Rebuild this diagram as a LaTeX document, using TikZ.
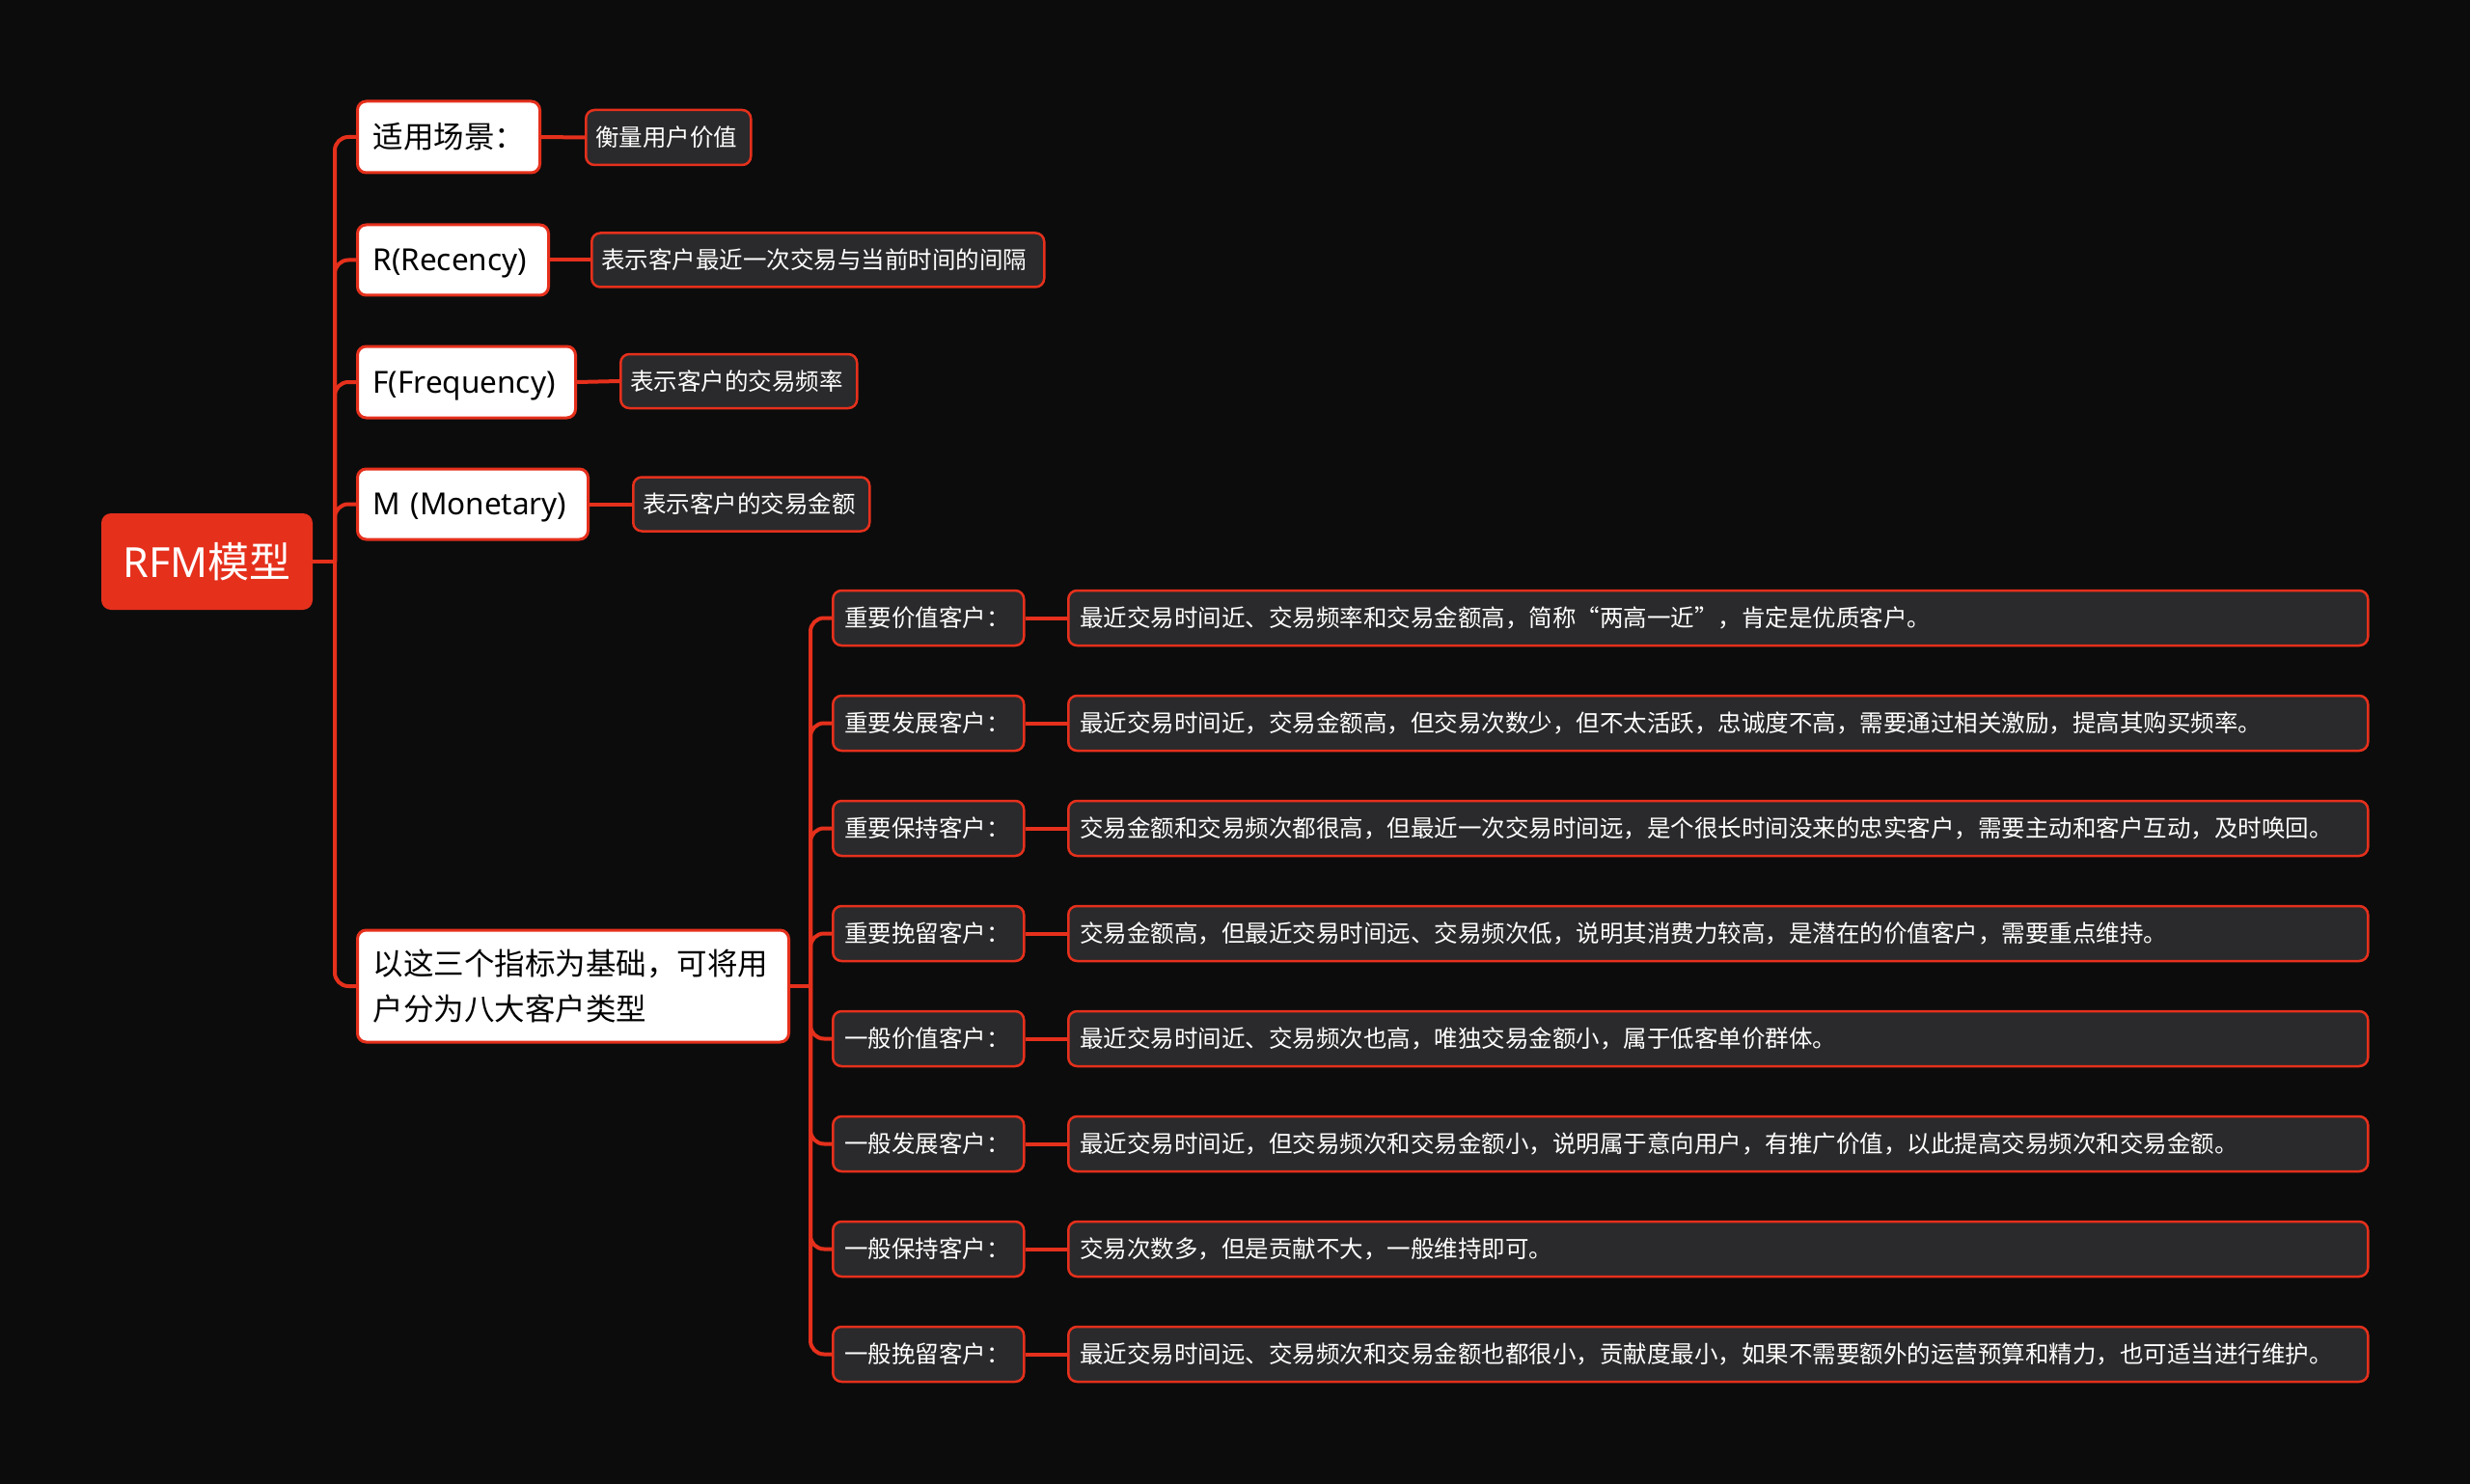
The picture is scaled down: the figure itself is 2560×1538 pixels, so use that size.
\documentclass[tikz,border=0pt]{standalone}
\usepackage{fontspec}
\newfontfamily\cjk{Noto Sans CJK SC}
\newfontfamily\lat{Noto Sans}
\definecolor{bgc}{HTML}{0C0C0C}
\definecolor{redc}{HTML}{E5301C}
\definecolor{darkc}{HTML}{2A2A2C}
\begin{document}
\begin{tikzpicture}[x=1pt,y=-1pt,
  conn/.style={draw=redc,line width=4pt},
  rootbox/.style={fill=redc, rounded corners=10pt, text=white, font=\cjk\fontsize{43}{52}\selectfont, minimum width=219pt, minimum height=100pt, inner sep=0pt},
  lvlone/.style={fill=white, draw=redc, line width=3pt, rounded corners=9pt, text=black, font=\cjk\fontsize{31.5}{47}\selectfont, anchor=west, inner xsep=16pt, inner ysep=0pt, align=left},
  latone/.style={lvlone, text height=29pt, text depth=6.5pt},
  lvltwo/.style={fill=darkc, draw=redc, line width=2.5pt, rounded corners=9pt, text=white, font=\cjk\fontsize{24.5}{30}\selectfont, anchor=west, inner xsep=10pt, inner ysep=0pt, align=left, minimum height=56pt},
  typebox/.style={lvltwo, inner xsep=12pt, minimum width=198pt, text width=174pt, minimum height=57pt},
  descbox/.style={lvltwo, inner xsep=12pt, minimum width=1347pt, text width=1323pt, minimum height=57pt},
  wd/.style 2 args={minimum width=#1pt, text width=#2pt}
]
\fill[bgc] (0,0) rectangle (2560,1538);
\useasboundingbox (0,0) rectangle (2560,1538);

% root
\node[rootbox] (root) at (214.5,582) {{\lat RFM}模型};
\coordinate (j1) at (347,582);
\coordinate (j2) at (840,1022);

% level one
\node[lvlone, wd={189}{157}, minimum height=74pt] (a1) at (369,142) {适用场景：};
\node[latone, wd={198}{166}, minimum height=73pt] (a2) at (369,269.5) {\lat R(Recency)};
\node[latone, wd={226}{194}, minimum height=74pt] (a3) at (369,396) {\lat F(Frequency)};
\node[latone, wd={239}{207}, minimum height=73pt] (a4) at (369,522.5) {\lat\mbox{M (Monetary)}};
\node[lvlone, wd={447}{415}, minimum height=116pt] (a5) at (369,1022) {以这三个指标为基础，可将用\\户分为八大客户类型};

% level two
\node[lvltwo, wd={171}{151}, minimum height=57pt] (b1) at (606,142.5) {衡量用户价值};
\node[lvltwo, wd={469}{449}] (b2) at (612,269.5) {表示客户最近一次交易与当前时间的间隔};
\node[lvltwo, wd={245}{225}] (b3) at (642,395) {表示客户的交易频率};
\node[lvltwo, wd={245}{225}] (b4) at (655,522.5) {表示客户的交易金额};

% eight types
\node[typebox] (c1) at (862,640.5) {重要价值客户：};
\node[typebox] (c2) at (862,749.5) {重要发展客户：};
\node[typebox] (c3) at (862,858.5) {重要保持客户：};
\node[typebox] (c4) at (862,967.5) {重要挽留客户：};
\node[typebox] (c5) at (862,1076.5) {一般价值客户：};
\node[typebox] (c6) at (862,1185.5) {一般发展客户：};
\node[typebox] (c7) at (862,1294.5) {一般保持客户：};
\node[typebox] (c8) at (862,1403.5) {一般挽留客户：};

\node[descbox] (d1) at (1106,640.5) {最近交易时间近、交易频率和交易金额高，简称“两高一近”，肯定是优质客户。};
\node[descbox] (d2) at (1106,749.5) {最近交易时间近，交易金额高，但交易次数少，但不太活跃，忠诚度不高，需要通过相关激励，提高其购买频率。};
\node[descbox] (d3) at (1106,858.5) {交易金额和交易频次都很高，但最近一次交易时间远，是个很长时间没来的忠实客户，需要主动和客户互动，及时唤回。};
\node[descbox] (d4) at (1106,967.5) {交易金额高，但最近交易时间远、交易频次低，说明其消费力较高，是潜在的价值客户，需要重点维持。};
\node[descbox] (d5) at (1106,1076.5) {最近交易时间近、交易频次也高，唯独交易金额小，属于低客单价群体。};
\node[descbox] (d6) at (1106,1185.5) {最近交易时间近，但交易频次和交易金额小，说明属于意向用户，有推广价值，以此提高交易频次和交易金额。};
\node[descbox] (d7) at (1106,1294.5) {交易次数多，但是贡献不大，一般维持即可。};
\node[descbox] (d8) at (1106,1403.5) {最近交易时间远、交易频次和交易金额也都很小，贡献度最小，如果不需要额外的运营预算和精力，也可适当进行维护。};

% connectors
\draw[conn] (root.east) -- (j1);
\foreach \n in {a1,a2,a3,a4,a5}{
  \draw[conn, rounded corners=14pt] (j1) |- (\n.west);
}
\foreach \i in {1,2,3,4}{
  \draw[conn] (a\i.east) -- (b\i.west);
}
\draw[conn] (a5.east) -- (j2);
\foreach \i in {1,...,8}{
  \draw[conn, rounded corners=14pt] (j2) |- (c\i.west);
  \draw[conn] (c\i.east) -- (d\i.west);
}
\end{tikzpicture}
\end{document}
